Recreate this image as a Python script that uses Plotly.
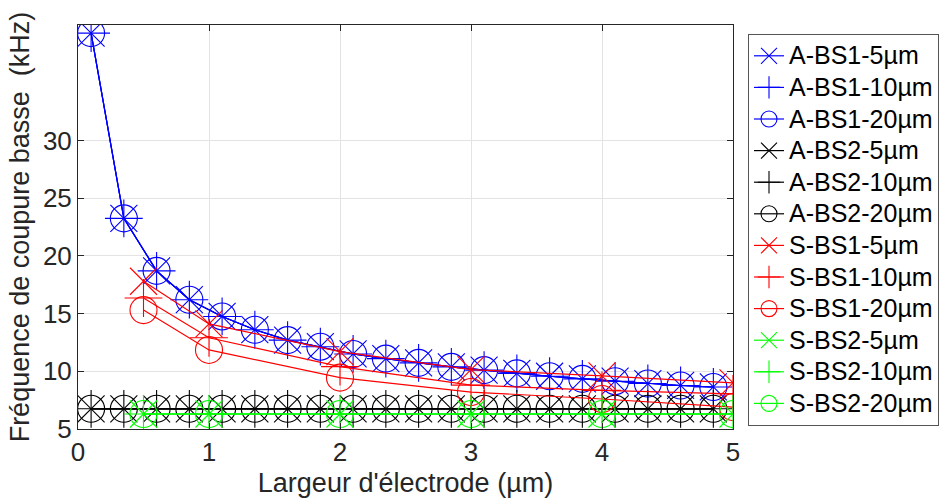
import plotly.graph_objects as go

# ---- data ----
x_A = [0.1, 0.35, 0.6, 0.85, 1.1, 1.35, 1.6, 1.85, 2.1, 2.35,
       2.6, 2.85, 3.1, 3.35, 3.6, 3.85, 4.1, 4.35, 4.6, 4.85]
y_A_BS1 = [39.3, 23.25, 18.7, 16.2, 14.75, 13.6, 12.7, 12.13, 11.5, 11.1,
           10.73, 10.38, 10.1, 9.82, 9.57, 9.34, 9.14, 8.94, 8.77, 8.64]
y_A_BS2 = [6.75] * 20

x_S = [0.5, 1, 2, 3, 4, 5]
y_S_BS1_5 = [17.8, 14.1, 11.7, 10.15, 9.6, 9.0]
y_S_BS1_10 = [16.35, 12.9, 10.4, 8.8, 8.35, 8.05]
y_S_BS1_20 = [15.3, 11.85, 9.45, 8.2, 7.6, 6.9]
y_S_BS2 = [6.3] * 6

x_ticks = [0, 1, 2, 3, 4, 5]
y_ticks = [5, 10, 15, 20, 25, 30]

series = [
    ("A-BS1-5µm", x_A, y_A_BS1, "#0000ff", "x-thin-open"),
    ("A-BS1-10µm", x_A, y_A_BS1, "#0000ff", "cross-thin-open"),
    ("A-BS1-20µm", x_A, y_A_BS1, "#0000ff", "circle-open"),
    ("A-BS2-5µm", x_A, y_A_BS2, "#000000", "x-thin-open"),
    ("A-BS2-10µm", x_A, y_A_BS2, "#000000", "cross-thin-open"),
    ("A-BS2-20µm", x_A, y_A_BS2, "#000000", "circle-open"),
    ("S-BS1-5µm", x_S, y_S_BS1_5, "#ff0000", "x-thin-open"),
    ("S-BS1-10µm", x_S, y_S_BS1_10, "#ff0000", "cross-thin-open"),
    ("S-BS1-20µm", x_S, y_S_BS1_20, "#ff0000", "circle-open"),
    ("S-BS2-5µm", x_S, y_S_BS2, "#00ff00", "x-thin-open"),
    ("S-BS2-10µm", x_S, y_S_BS2, "#00ff00", "cross-thin-open"),
    ("S-BS2-20µm", x_S, y_S_BS2, "#00ff00", "circle-open"),
]

fig = go.Figure()
for name, xs, ys, col, sym in series:
    fig.add_trace(go.Scatter(
        x=xs, y=ys, mode="lines+markers",
        name="<span style='font-size:25px'>" + name + "</span>",
        line=dict(color=col, width=1.2),
        marker=dict(symbol=sym, size=27, color=col, line=dict(color=col, width=1.1)),
    ))

font_family = "Liberation Sans, Arial, Helvetica, sans-serif"
fig.update_layout(
    width=943, height=502,
    margin=dict(l=78, r=210, t=25, b=73),
    paper_bgcolor="white", plot_bgcolor="white",
    font=dict(family=font_family, size=26, color="#262626"),
    showlegend=True,
    legend=dict(
        xref="container", yref="container",
        x=748 / 943, y=1 - 34 / 502, xanchor="left", yanchor="top",
        maxheight=480,
        bgcolor="white", bordercolor="#555555", borderwidth=1,
        font=dict(family=font_family, size=22, color="#000000"),
        tracegroupgap=0, itemwidth=30,
    ),
    xaxis=dict(
        range=[0, 5], tickvals=x_ticks, ticktext=[str(v) for v in x_ticks],
        showgrid=True, gridcolor="#e3e3e3", gridwidth=1,
        showline=True, linecolor="#262626", linewidth=1, mirror="ticks",
        ticks="inside", ticklen=6, tickcolor="#262626",
        zeroline=False, automargin=False,
        tickfont=dict(size=26),
        title=dict(text="Largeur d'électrode (µm)", standoff=6,
                   font=dict(size=27, color="#262626")),
    ),
    yaxis=dict(
        range=[5, 40], tickvals=y_ticks, ticktext=[str(v) for v in y_ticks],
        showgrid=True, gridcolor="#e3e3e3", gridwidth=1,
        showline=True, linecolor="#262626", linewidth=1, mirror="ticks",
        ticks="inside", ticklen=6, tickcolor="#262626",
        zeroline=False, automargin=False,
        tickfont=dict(size=26),
        title=dict(text="Fréquence de coupure basse\u00a0\u00a0(kHz)", standoff=5,
                   font=dict(size=27, color="#262626")),
    ),
)

fig.write_html("out.html", config={"displayModeBar": False},
               post_script="document.body.style.margin='0';")
